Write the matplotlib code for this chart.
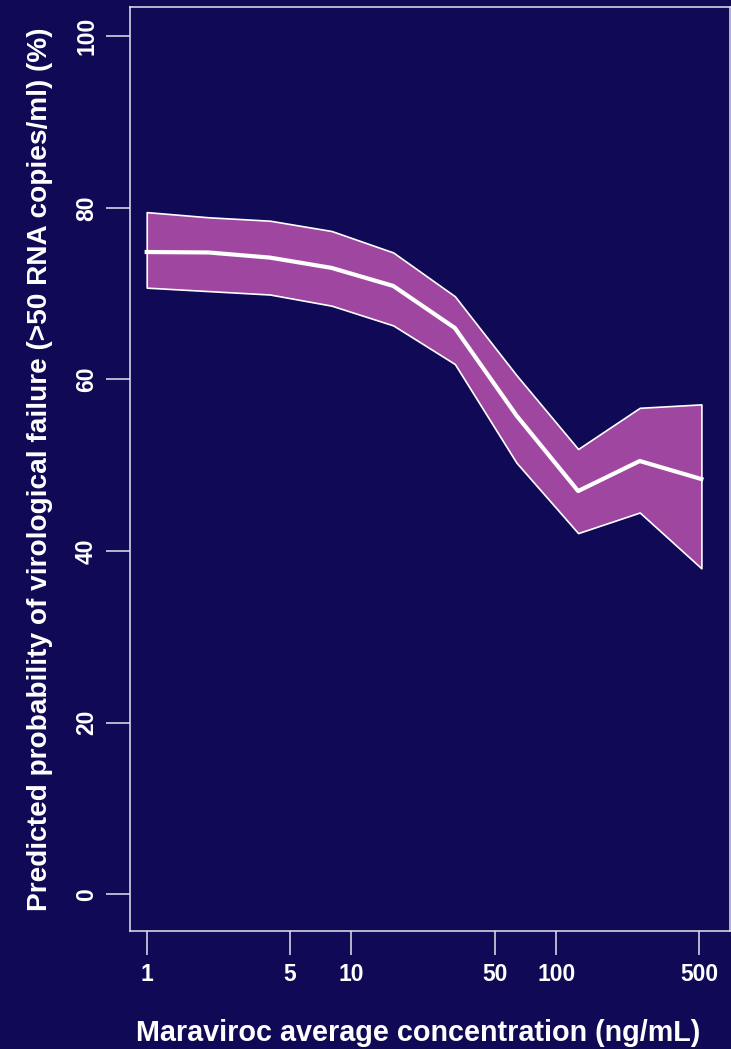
import matplotlib
matplotlib.use("Agg")
import matplotlib.pyplot as plt
import numpy as np

# predicted probability of virological failure vs maraviroc Cavg
conc = [1, 2, 4, 8, 16, 32, 64, 128, 256, 512]
prob_mid = [74.85, 74.8, 74.2, 73.0, 70.9, 66.0, 55.8, 47.0, 50.5, 48.4]
prob_upper = [79.5, 78.9, 78.5, 77.3, 74.8, 69.7, 60.5, 51.9, 56.7, 57.1]
prob_lower = [70.7, 70.3, 69.9, 68.6, 66.3, 61.8, 50.3, 42.1, 44.5, 38.0]

xticks = [1, 5, 10, 50, 100, 500]
yticks = [0, 20, 40, 60, 80, 100]

bg = '#100a56'
band = '#9f47a0'
fg = '#e4e4f0'

plt.rcParams['font.family'] = ['Liberation Sans', 'DejaVu Sans']

W, H = 731, 1049
fig = plt.figure(figsize=(W / 100, H / 100), dpi=100, facecolor=bg)
ax = fig.add_axes([130 / W, (H - 931) / H, 600 / W, 924 / H], facecolor=bg)

ax.fill_between(conc, prob_lower, prob_upper, facecolor=band,
                edgecolor='white', linewidth=1.2, zorder=2)
ax.plot(conc, prob_mid, color='white', linewidth=3.0, zorder=3)

ax.set_xscale('log')
ax.set_xlim(10 ** -0.0816, 10 ** 2.849)
ax.set_ylim(-4.26, 103.4)

ax.set_xticks(xticks)
ax.set_xticklabels([str(t) for t in xticks])
ax.minorticks_off()
ax.set_yticks(yticks)
ax.set_yticklabels([str(t) for t in yticks], rotation=90, va='center')

for s in ax.spines.values():
    s.set_color(fg)
    s.set_linewidth(1.1)

ax.tick_params(axis='both', colors=fg, length=17, width=1.1,
               labelsize=16.5, labelcolor='white')
ax.tick_params(axis='x', pad=6)
ax.tick_params(axis='y', pad=6)
for lab in ax.get_xticklabels() + ax.get_yticklabels():
    lab.set_fontweight('bold')

ax.set_xlabel('Maraviroc average concentration (ng/mL)', color='white',
              fontsize=20.7, fontweight='bold', labelpad=24)
ax.xaxis.label.set_x(0.48)
ax.set_ylabel('Predicted probability of virological failure (>50 RNA copies/ml) (%)',
              color='white', fontsize=20.2, fontweight='bold', labelpad=16)

fig.savefig('out.png', dpi=100, facecolor=bg)
